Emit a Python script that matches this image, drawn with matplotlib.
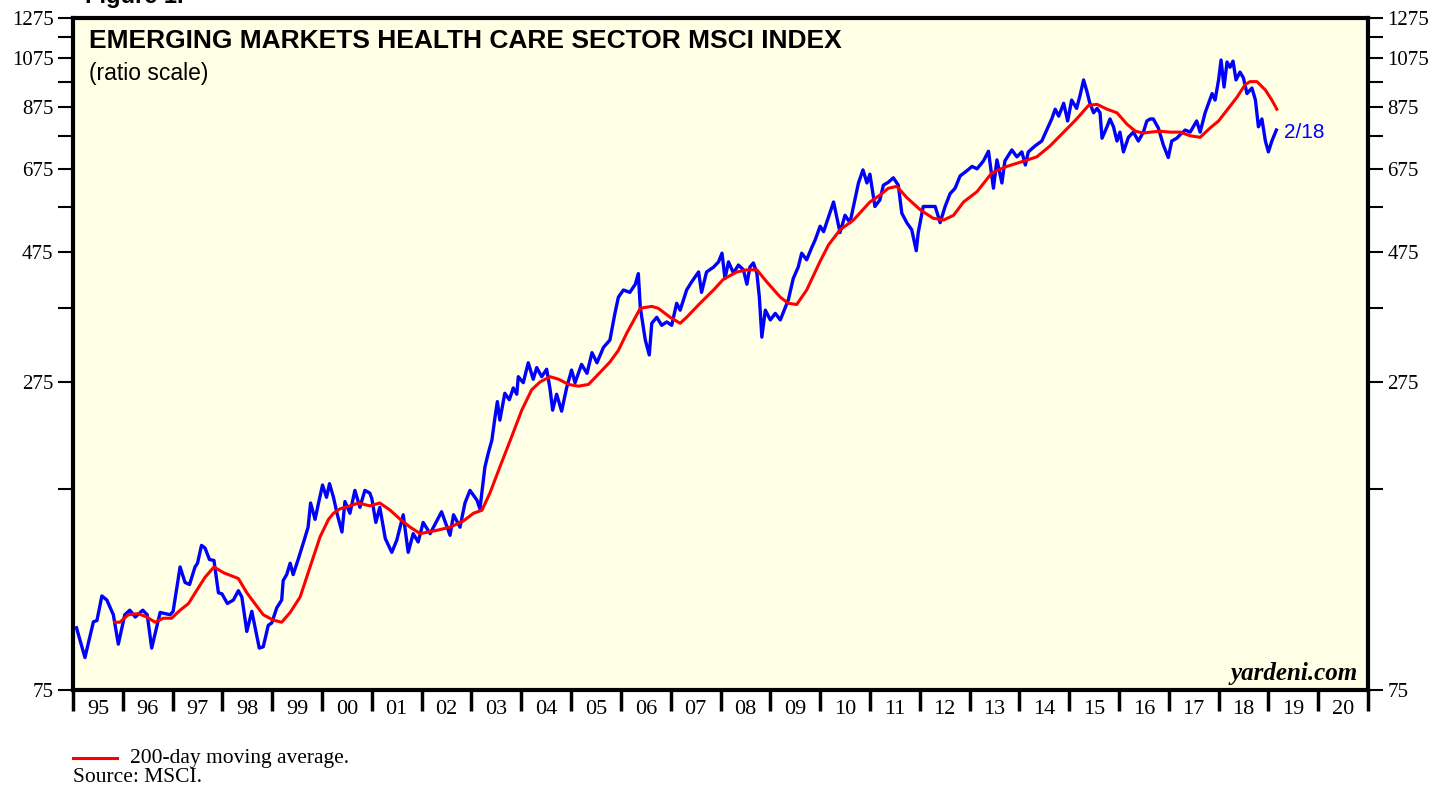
import matplotlib
matplotlib.use('Agg')
import matplotlib.pyplot as plt
from matplotlib.ticker import FixedLocator, NullLocator

# MSCI EM health care index (decimal year, index level)
index_t = [1995.07, 1995.24, 1995.41, 1995.48, 1995.58, 1995.68, 1995.81, 1995.91,
           1996.04, 1996.14, 1996.25, 1996.40, 1996.49, 1996.58, 1996.75, 1996.95,
           1997.01, 1997.15, 1997.25, 1997.34, 1997.45, 1997.50, 1997.58, 1997.65,
           1997.74, 1997.83, 1997.92, 1997.99, 1998.10, 1998.22, 1998.32, 1998.39,
           1998.49, 1998.59, 1998.74, 1998.82, 1998.92, 1998.99, 1999.09, 1999.19,
           1999.22, 1999.29, 1999.36, 1999.42, 1999.52, 1999.62, 1999.72, 1999.77,
           1999.86, 1999.93, 2000.01, 2000.09, 2000.15, 2000.23, 2000.30, 2000.40,
           2000.46, 2000.56, 2000.66, 2000.76, 2000.86, 2000.96, 2001.00, 2001.08,
           2001.16, 2001.27, 2001.40, 2001.50, 2001.63, 2001.73, 2001.83, 2001.93,
           2002.03, 2002.17, 2002.40, 2002.57, 2002.64, 2002.77, 2002.87, 2002.97,
           2003.11, 2003.17, 2003.27, 2003.34, 2003.41, 2003.47, 2003.52, 2003.57,
           2003.67, 2003.76, 2003.84, 2003.91, 2003.94, 2004.04, 2004.14, 2004.24,
           2004.31, 2004.41, 2004.51, 2004.58, 2004.63, 2004.71, 2004.81, 2004.91,
           2005.01, 2005.08, 2005.21, 2005.32, 2005.42, 2005.52, 2005.65, 2005.78,
           2005.88, 2005.95, 2006.05, 2006.18, 2006.29, 2006.35, 2006.39, 2006.49,
           2006.57, 2006.62, 2006.72, 2006.82, 2006.92, 2007.02, 2007.12, 2007.19,
           2007.32, 2007.42, 2007.56, 2007.62, 2007.72, 2007.86, 2007.96, 2008.03,
           2008.09, 2008.16, 2008.26, 2008.36, 2008.46, 2008.53, 2008.59, 2008.66,
           2008.73, 2008.78, 2008.83, 2008.90, 2009.00, 2009.10, 2009.20, 2009.30,
           2009.36, 2009.46, 2009.56, 2009.63, 2009.73, 2009.83, 2009.90, 2010.00,
           2010.07, 2010.27, 2010.40, 2010.50, 2010.60, 2010.67, 2010.77, 2010.86,
           2010.94, 2011.00, 2011.10, 2011.20, 2011.27, 2011.37, 2011.47, 2011.57,
           2011.64, 2011.74, 2011.84, 2011.93, 2011.97, 2012.07, 2012.21, 2012.31,
           2012.41, 2012.51, 2012.61, 2012.71, 2012.81, 2012.95, 2013.05, 2013.15,
           2013.28, 2013.38, 2013.48, 2013.55, 2013.65, 2013.71, 2013.85, 2013.95,
           2014.05, 2014.12, 2014.18, 2014.32, 2014.45, 2014.55, 2014.65, 2014.72,
           2014.79, 2014.89, 2014.97, 2015.05, 2015.15, 2015.22, 2015.29, 2015.36,
           2015.41, 2015.49, 2015.56, 2015.62, 2015.66, 2015.76, 2015.82, 2015.89,
           2015.96, 2016.02, 2016.09, 2016.19, 2016.29, 2016.39, 2016.49, 2016.56,
           2016.63, 2016.69, 2016.79, 2016.89, 2016.99, 2017.06, 2017.16, 2017.23,
           2017.33, 2017.43, 2017.56, 2017.63, 2017.73, 2017.80, 2017.87, 2017.93,
           2018.00, 2018.05, 2018.11, 2018.17, 2018.23, 2018.29, 2018.35, 2018.43,
           2018.50, 2018.57, 2018.67, 2018.74, 2018.80, 2018.87, 2018.94, 2019.00,
           2019.07, 2019.16]
index_v = [97.5, 86, 100, 100.5, 111.5, 109.6, 103, 91,
           103, 105, 102, 105, 103, 89.5, 104, 103,
           104.5, 126, 118, 117, 126, 128, 138, 136.5,
           130, 129.5, 113, 112.5, 108, 109.6, 114, 111,
           96, 104.5, 89.5, 90, 98.5, 99.5, 106, 109.6,
           119, 122, 128, 122, 130, 139, 149, 165,
           154, 165, 178, 169, 179, 169, 158, 146,
           166, 158, 174, 162, 174, 172, 168, 152,
           162, 142, 134, 141, 157, 134, 145, 140,
           152, 145, 159, 144, 157, 149, 165, 174,
           167, 161, 192, 204, 215, 236, 253, 234,
           262, 255, 268, 261, 281, 274, 298, 278,
           292, 281, 290, 266, 244, 261, 243, 268,
           289, 274, 296, 285, 311, 298, 318, 328,
           367, 393, 405, 401, 415, 434, 376, 328,
           308, 352, 361, 349, 354, 349, 383, 372,
           405, 419, 437, 401, 437, 446, 456, 473,
           425, 456, 435, 450, 441, 415, 446, 454,
           435, 393, 332, 372, 357, 367, 357, 376,
           388, 425, 446, 473, 460, 484, 500, 530,
           518, 587, 516, 555, 538, 576, 636, 672,
           636, 660, 576, 592, 630, 638, 650, 630,
           560, 538, 522, 478, 516, 576, 576, 576,
           538, 576, 608, 622, 655, 670, 682, 675,
           698, 727, 622, 701, 636, 698, 731, 710,
           725, 686, 725, 744, 759, 795, 833, 868,
           843, 890, 826, 902, 871, 921, 982, 933,
           894, 855, 871, 855, 768, 806, 833, 806,
           759, 788, 725, 771, 788, 759, 788, 826,
           833, 833, 802, 747, 708, 759, 768, 780,
           795, 788, 826, 788, 855, 890, 927, 902,
           982, 1068, 953, 1059, 1036, 1063, 982, 1015,
           990, 927, 949, 902, 806, 833, 759, 725,
           759, 795]

# 200-day moving average
ma_t = [1995.84, 1995.94, 1996.11, 1996.31, 1996.48, 1996.65, 1996.81, 1996.98,
        1997.15, 1997.32, 1997.48, 1997.65, 1997.83, 1998.02, 1998.32, 1998.49,
        1998.65, 1998.82, 1999.02, 1999.19, 1999.36, 1999.56, 1999.76, 1999.96,
        2000.13, 2000.23, 2000.36, 2000.56, 2000.73, 2000.96, 2001.16, 2001.37,
        2001.57, 2001.77, 2001.97, 2002.30, 2002.57, 2002.84, 2003.04, 2003.21,
        2003.37, 2003.57, 2003.78, 2004.01, 2004.21, 2004.38, 2004.58, 2004.75,
        2004.95, 2005.15, 2005.35, 2005.58, 2005.78, 2005.95, 2006.12, 2006.39,
        2006.62, 2006.75, 2006.99, 2007.19, 2007.32, 2007.59, 2007.86, 2008.06,
        2008.33, 2008.53, 2008.73, 2008.93, 2009.20, 2009.36, 2009.53, 2009.73,
        2010.00, 2010.17, 2010.40, 2010.67, 2011.00, 2011.20, 2011.37, 2011.54,
        2011.74, 2012.01, 2012.27, 2012.48, 2012.68, 2012.88, 2013.15, 2013.45,
        2013.75, 2014.08, 2014.35, 2014.62, 2014.89, 2015.15, 2015.39, 2015.56,
        2015.76, 2015.96, 2016.16, 2016.33, 2016.49, 2016.63, 2016.83, 2017.03,
        2017.23, 2017.43, 2017.63, 2017.83, 2018.00, 2018.17, 2018.37, 2018.53,
        2018.63, 2018.77, 2018.94, 2019.07, 2019.17]
ma_v = [99.8, 99.8, 103, 103.5, 102, 99.8, 101.5, 101.5,
        105, 108, 114, 120.6, 126, 123, 120, 113,
        108, 103, 100.7, 99.8, 104, 111, 126, 143,
        154, 158, 161, 163, 165, 163, 165, 160,
        154, 149, 145, 147, 149, 153, 158, 160,
        172, 192, 215, 244, 266, 275, 281, 278,
        272, 270, 272, 286, 299, 314, 338, 375,
        378, 375, 361, 352, 361, 383, 405, 424,
        437, 441, 441, 419, 393, 383, 381, 405,
        457, 490, 522, 544, 587, 604, 622, 627,
        598, 568, 548, 544, 555, 587, 613, 664,
        682, 697, 710, 744, 788, 833, 882, 886,
        868, 855, 815, 791, 785, 788, 791, 788,
        788, 776, 771, 802, 826, 865, 913, 962,
        975, 975, 941, 902, 868]

ytick_vals = [75, 175, 275, 375, 475, 575, 675, 775, 875, 975, 1075, 1175, 1275]
ytick_labels = ['75', '', '275', '', '475', '', '675', '', '875', '', '1075', '', '1275']
years = list(range(1995, 2022))
year_labels = ['95', '96', '97', '98', '99', '00', '01', '02', '03', '04', '05', '06', '07',
               '08', '09', '10', '11', '12', '13', '14', '15', '16', '17', '18', '19', '20']

fig = plt.figure(figsize=(14.36, 7.88), dpi=100)
ax = fig.add_axes([73 / 1436, 1 - 690 / 788, 1295 / 1436, 672 / 788])
ax.set_facecolor('#ffffe6')

ax.plot(index_t, index_v, color='#0000ff', lw=2.4, zorder=3)
ax.plot(ma_t, ma_v, color='#ff0000', lw=2.2, zorder=4)

ax.set_yscale('log')
ax.set_ylim(75, 1275)
ax.set_xlim(1995, 2021)

ax.yaxis.set_major_locator(FixedLocator(ytick_vals))
ax.set_yticklabels(ytick_labels)
ax.yaxis.set_minor_locator(NullLocator())
ax.tick_params(axis='y', which='major', direction='out', length=11, width=1.5,
               left=True, right=True, labelleft=True, labelright=True,
               labelsize=15, pad=3)

ax.xaxis.set_major_locator(FixedLocator(years))
ax.xaxis.set_major_formatter(plt.NullFormatter())
ax.xaxis.set_minor_locator(FixedLocator([y + 0.5 for y in years[:-1]]))
ax.set_xticklabels(year_labels, minor=True)
ax.tick_params(axis='x', which='major', direction='out', length=15, width=2.5)
ax.tick_params(axis='x', which='minor', length=0, labelsize=16, pad=7)

for lab in ax.get_xticklabels(minor=True) + ax.get_yticklabels():
    lab.set_family('Liberation Serif')

for sp in ax.spines.values():
    sp.set_linewidth(3)

ax.text(0.012, 0.983, 'EMERGING MARKETS HEALTH CARE SECTOR MSCI INDEX',
        transform=ax.transAxes, family='Liberation Sans', fontweight='bold',
        fontsize=19, va='top', ha='left')
ax.text(0.012, 0.935, '(ratio scale)', transform=ax.transAxes,
        family='Liberation Sans', fontsize=16.5, va='top', ha='left')
ax.text(0.992, 0.008, 'yardeni.com', transform=ax.transAxes,
        family='Liberation Serif', fontweight='bold', style='italic',
        fontsize=18, va='bottom', ha='right')
ax.text(index_t[-1] + 0.15, index_v[-1] * 0.99, '2/18', color='#0000ff',
        family='Liberation Sans', fontsize=15, va='center', ha='left')

fig.text(85 / 1436, 1 - 3 / 788, 'Figure 1.', family='Liberation Sans',
         fontweight='bold', fontsize=17, va='baseline', ha='left')

# legend / source note under the chart
fig.lines.append(plt.Line2D([73 / 1436, 117 / 1436], [1 - 758 / 788, 1 - 758 / 788],
                            transform=fig.transFigure, color='#ff0000', lw=2.2))
fig.text(130 / 1436, 1 - 758 / 788, '200-day moving average.',
         family='Liberation Serif', fontsize=15.5, va='center', ha='left')
fig.text(73 / 1436, 1 - 778 / 788, 'Source: MSCI.',
         family='Liberation Serif', fontsize=15.5, va='center', ha='left')

fig.savefig('out.png', dpi=100)
